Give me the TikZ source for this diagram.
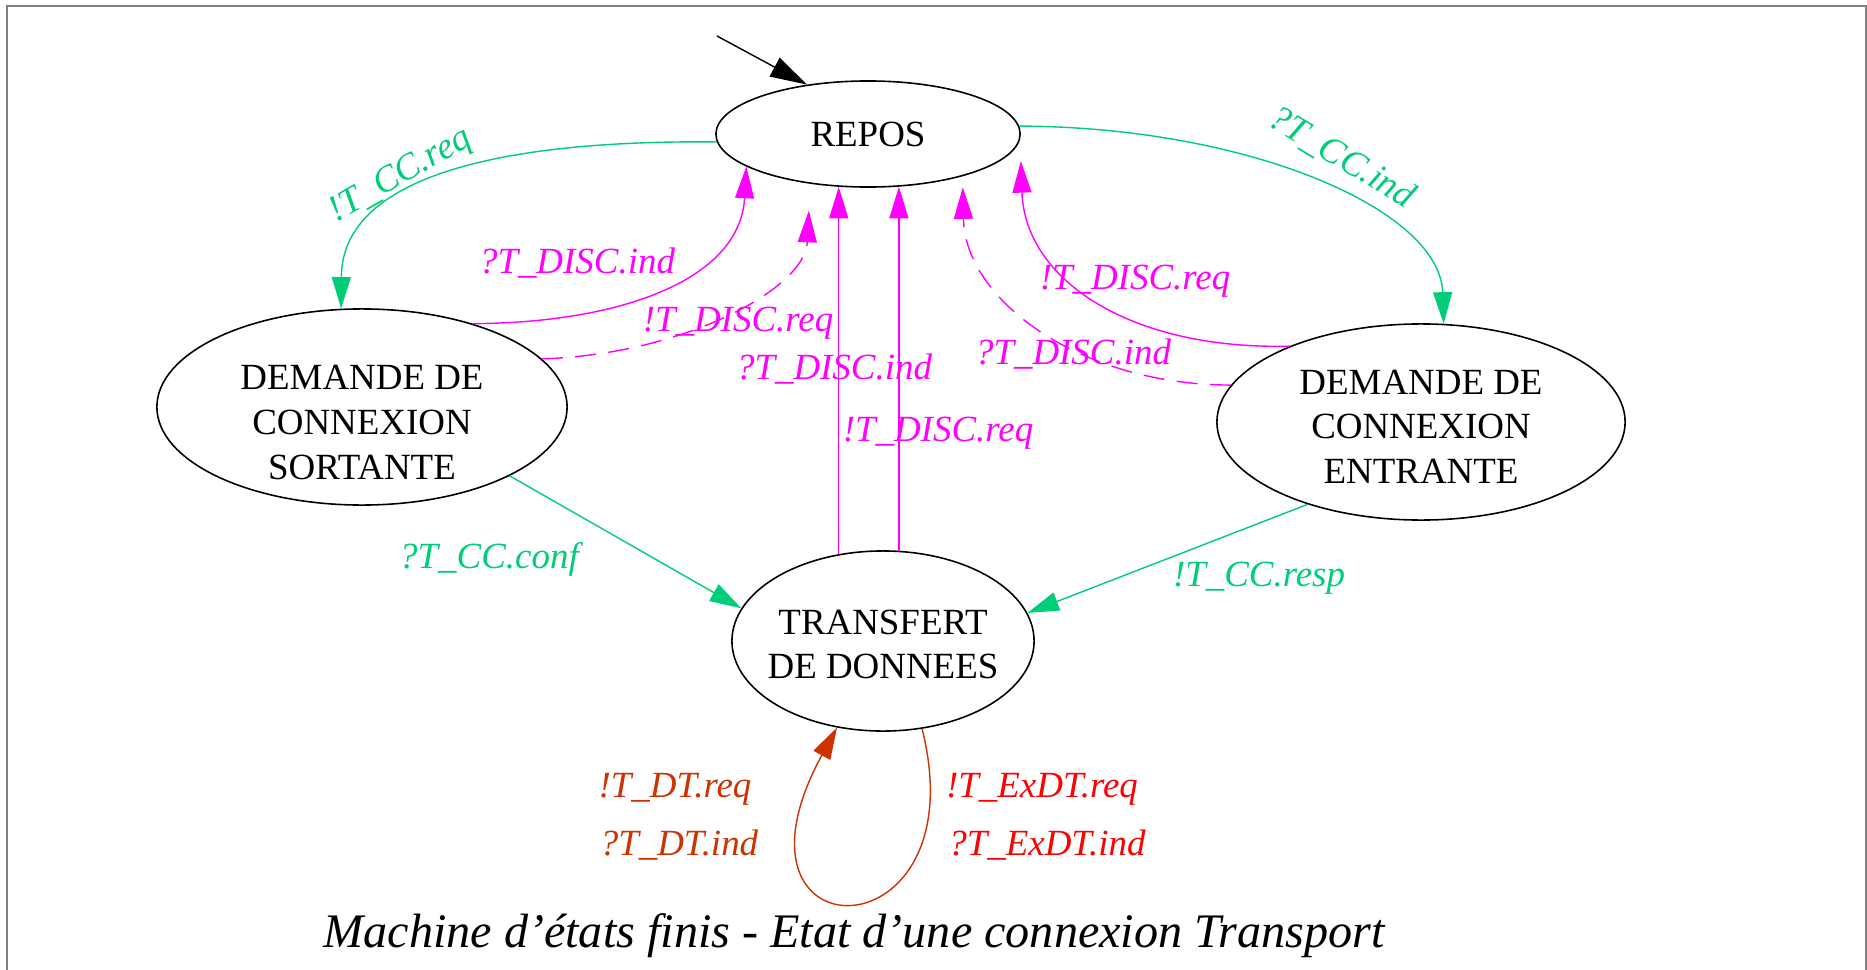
\documentclass[tikz,border=0pt]{standalone}
\usepackage{fontspec}
\setmainfont{Liberation Serif}
\usetikzlibrary{shapes.geometric,arrows.meta}
\definecolor{vert}{RGB}{0,205,120}
\definecolor{rose}{RGB}{255,0,255}
\definecolor{brique}{RGB}{204,51,0}
\definecolor{rouge}{RGB}{255,0,0}
\newcommand{\haut}[1]{\rule{0pt}{#1}}
\tikzset{
	etat/.style={draw,ellipse,inner xsep=-12pt,inner ysep=-6pt,align=center,line width=0.45pt,font=\fontsize{10.5}{12.7}\selectfont},
	lbl/.style={anchor=base,inner sep=0pt,font=\fontsize{10.5}{12.7}\selectfont\itshape},
	fleche/.style={line width=0.4pt,-{Triangle[length=9pt,width=5.4pt]}},
	pointille/.style={dash pattern=on 6pt off 3.5pt}
}

\begin{document}
\begin{tikzpicture}[x=0.01cm,y=0.01cm]
				\useasboundingbox (0,0) rectangle (1867,-970);
				\draw[black!50,line width=0.6pt] (7,-970) -- (7,-6) -- (1866,-6) -- (1866,-970);

				\draw (868,-134) node[etat,minimum width=3.04cm,minimum height=1.06cm] (repos) {REPOS};
				\draw (362,-407) node[etat,minimum width=4.10cm,minimum height=1.96cm] (sortante) {\haut{15.7pt}DEMANDE DE\\CONNEXION\\SORTANTE};
				\draw (1421,-422) node[etat,minimum width=4.08cm,minimum height=1.96cm] (entrante) {\haut{9.5pt}DEMANDE DE\\CONNEXION\\ENTRANTE};
				\draw (883,-641) node[etat,minimum width=3.02cm,minimum height=1.80cm] (transfert) {\haut{8.9pt}TRANSFERT\\DE DONNEES};
				\coordinate (init) at (717,-36);

				\draw (401,-176) node[lbl,anchor=center,rotate=30,vert] (lccreq) {!T\_CC.req};
				\draw (1342,-158) node[lbl,anchor=center,rotate=-31,vert] (lccind) {?T\_CC.ind};
				\draw (489,-568) node[lbl,vert] (lccconf) {?T\_CC.conf};
				\draw (1259,-586) node[lbl,vert] (lccresp) {!T\_CC.resp};
				\draw (577,-273) node[lbl,rose] (ldiscinda) {?T\_DISC.ind};
				\draw (738,-331) node[lbl,rose] (ldiscreqa) {!T\_DISC.req};
				\draw (834,-379) node[lbl,rose] (ldiscindb) {?T\_DISC.ind};
				\draw (938,-441) node[lbl,rose] (ldiscreqb) {!T\_DISC.req};
				\draw (1135,-289) node[lbl,rose] (ldiscreqc) {!T\_DISC.req};
				\draw (1073,-364) node[lbl,rose] (ldiscindc) {?T\_DISC.ind};
				\draw (675,-797) node[lbl,brique] (ldtreq) {!T\_DT.req};
				\draw (679,-855) node[lbl,brique] (ldtind) {?T\_DT.ind};
				\draw (1042,-797) node[lbl,rouge] (lexdtreq) {!T\_ExDT.req};
				\draw (1047,-855) node[lbl,rouge] (lexdtind) {?T\_ExDT.ind};
				\draw (854,-947) node[anchor=base,inner sep=0pt,font=\fontsize{13.7}{16}\selectfont\itshape] (titre) {Machine d’états finis - Etat d’une connexion Transport};

				\draw[fleche,-{Triangle[length=10.5pt,width=6pt]}] (init) -- (repos.141);
				\draw[fleche,vert] (repos.183) .. controls (520,-140) and (342,-170) .. (sortante.102);
				\draw[fleche,vert] (repos.3) .. controls (1250,-127) and (1440,-210) .. (entrante.77);
				\draw[fleche,vert] (sortante.335) -- (transfert.167);
				\draw[fleche,vert] (entrante.216) -- (transfert.11);
				\draw[fleche,rose] (sortante.37) .. controls (620,-323) and (740,-280) .. (repos.195);
				\draw[fleche,rose,pointille] (sortante.15) .. controls (680,-355) and (805,-290) .. ([yshift=-2.7mm]repos.220);
				\draw[fleche,rose] (transfert.117) -- (transfert.117 |- repos.241);
				\draw[fleche,rose] (transfert.80) -- (transfert.80 |- repos.300);
				\draw[fleche,rose] (entrante.150) .. controls (1130,-350) and (1025,-280) .. ([yshift=-2.7mm]repos.east);
				\draw[fleche,rose,pointille] (entrante.169) .. controls (1080,-385) and (965,-300) .. ([yshift=-1.1mm]repos.336);
				\draw[fleche,brique] (transfert.294) .. controls (980,-960) and (710,-960) .. (transfert.242);
			\end{tikzpicture}
\end{document}
